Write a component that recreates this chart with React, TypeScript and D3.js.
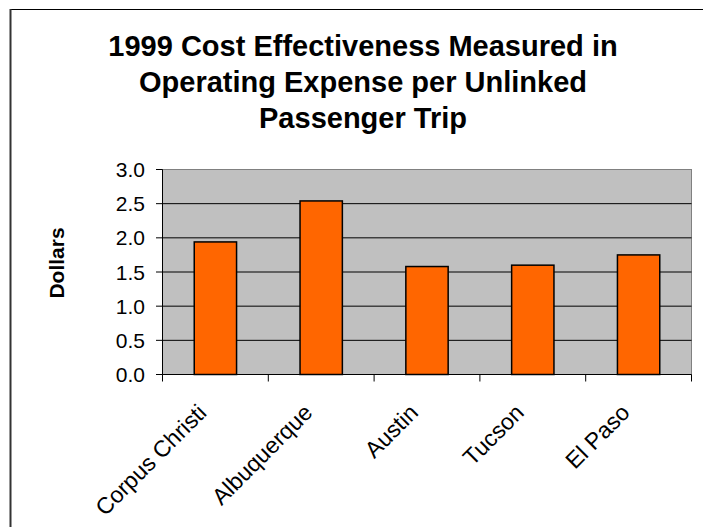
import React from "react";
import * as d3 from "d3";

const categories: string[] = ["Corpus Christi", "Albuquerque", "Austin", "Tucson", "El Paso"];
const values: number[] = [1.94, 2.54, 1.58, 1.6, 1.75];
const yTicks: number[] = [0, 0.5, 1.0, 1.5, 2.0, 2.5, 3.0];
const titleLines: string[] = ["1999 Cost Effectiveness Measured in", "Operating Expense per Unlinked", "Passenger Trip"];
const yAxisTitle = "Dollars";

const W = 703;
const H = 527;
const plot = { left: 162.5, right: 691.5, top: 169.5, bottom: 374.5 };
const FONT = "'Liberation Sans', Arial, Helvetica, sans-serif";

export default function App() {
  const x = d3
    .scaleBand<string>()
    .domain(categories)
    .range([plot.left, plot.right])
    .paddingInner(0.6)
    .paddingOuter(0.3);
  const xOuter = d3.scaleBand<string>().domain(categories).range([plot.left, plot.right]);
  const y = d3.scaleLinear().domain([0, 3]).range([plot.bottom, plot.top]);

  const boundaries = [plot.left, ...categories.map((c) => (xOuter(c) as number) + xOuter.bandwidth())];

  return (
    <svg
      width={W}
      height={H}
      style={{ position: "absolute", left: 0, top: 0, background: "#fff" }}
      fontFamily={FONT}
    >
      <rect x={0} y={0} width={W} height={H} fill="#fff" />
      {/* outer frame */}
      <line x1={10} x2={W + 5} y1={9.5} y2={9.5} stroke="#000" strokeWidth={1} />
      <line x1={10.5} x2={10.5} y1={9} y2={H + 5} stroke="#333" strokeWidth={2} />

      {/* title */}
      <text textAnchor="middle" fontWeight="bold" fontSize={29} fill="#000">
        {titleLines.map((t, i) => (
          <tspan key={i} x={363} y={55.5 + i * 36}>
            {t}
          </tspan>
        ))}
      </text>

      {/* plot background */}
      <rect
        x={plot.left}
        y={plot.top}
        width={plot.right - plot.left}
        height={plot.bottom - plot.top}
        fill="#C0C0C0"
        stroke="#808080"
        strokeWidth={1}
      />

      {/* gridlines */}
      {yTicks.slice(1, -1).map((t) => (
        <line key={t} x1={plot.left} x2={plot.right} y1={y(t)} y2={y(t)} stroke="#000" strokeWidth={1} />
      ))}

      {/* bars */}
      {categories.map((c, i) => (
        <rect
          key={c}
          x={x(c)}
          y={y(values[i])}
          width={x.bandwidth()}
          height={plot.bottom - y(values[i])}
          fill="#FF6600"
          stroke="#000"
          strokeWidth={1.5}
        />
      ))}

      {/* axes */}
      <line x1={plot.left} x2={plot.left} y1={plot.top} y2={plot.bottom} stroke="#000" strokeWidth={1} />
      <line x1={plot.left} x2={plot.right} y1={plot.bottom} y2={plot.bottom} stroke="#000" strokeWidth={1} />
      {yTicks.map((t) => (
        <g key={t}>
          <line x1={plot.left - 6.5} x2={plot.left} y1={y(t)} y2={y(t)} stroke="#000" strokeWidth={1} />
          <text x={145} y={y(t)} dy="0.36em" textAnchor="end" fontSize={21} fill="#000">
            {t.toFixed(1)}
          </text>
        </g>
      ))}
      {boundaries.map((b, i) => (
        <line key={i} x1={b} x2={b} y1={plot.bottom} y2={plot.bottom + 7} stroke="#000" strokeWidth={1} />
      ))}

      {/* category labels */}
      {categories.map((c) => {
        const cx = (xOuter(c) as number) + xOuter.bandwidth() / 2;
        return (
          <text
            key={c}
            transform={`translate(${cx - 19},${plot.bottom + 28}) rotate(-45)`}
            textAnchor="end"
            dy="0.71em"
            fontSize={23}
            fill="#000"
          >
            {c}
          </text>
        );
      })}

      {/* y axis title */}
      <text
        transform={`translate(64,263) rotate(-90)`}
        textAnchor="middle"
        fontWeight="bold"
        fontSize={21}
        fill="#000"
      >
        {yAxisTitle}
      </text>
    </svg>
  );
}
